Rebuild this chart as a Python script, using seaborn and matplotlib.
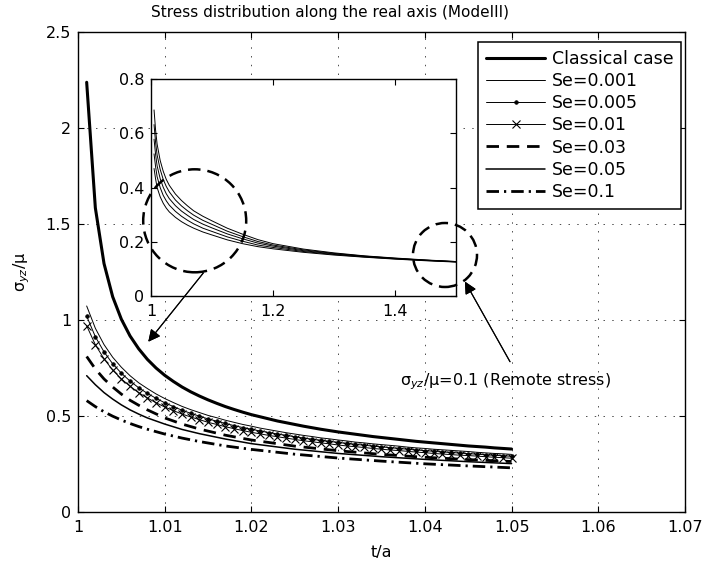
import matplotlib
matplotlib.use("Agg")
import matplotlib.pyplot as plt
from matplotlib.patches import Ellipse
from matplotlib.ticker import FuncFormatter, MultipleLocator, FixedLocator
import seaborn as sns

# ---------------------------------------------------------------- data
t_dense = [1.001, 1.002, 1.003, 1.004, 1.005, 1.006, 1.007, 1.008, 1.009, 1.010,
           1.011, 1.012, 1.013, 1.014, 1.015, 1.016, 1.017, 1.018, 1.019, 1.020,
           1.021, 1.022, 1.023, 1.024, 1.025, 1.026, 1.027, 1.028, 1.029, 1.030,
           1.031, 1.032, 1.033, 1.034, 1.035, 1.036, 1.037, 1.038, 1.039, 1.040,
           1.041, 1.042, 1.043, 1.044, 1.045, 1.046, 1.047, 1.048, 1.049, 1.050]

classical = [2.238, 1.584, 1.294, 1.121, 1.004, 0.917, 0.850, 0.795, 0.750, 0.712,
             0.680, 0.651, 0.626, 0.604, 0.584, 0.566, 0.549, 0.534, 0.520, 0.507,
             0.496, 0.485, 0.474, 0.465, 0.456, 0.447, 0.439, 0.431, 0.424, 0.417,
             0.411, 0.405, 0.399, 0.393, 0.388, 0.383, 0.378, 0.373, 0.368, 0.364,
             0.360, 0.356, 0.352, 0.348, 0.344, 0.341, 0.338, 0.334, 0.331, 0.328]

se_0001 = [1.073, 0.957, 0.872, 0.806, 0.754, 0.710, 0.673, 0.643, 0.615, 0.591,
           0.570, 0.550, 0.533, 0.518, 0.503, 0.491, 0.478, 0.467, 0.456, 0.447,
           0.437, 0.429, 0.421, 0.413, 0.406, 0.399, 0.393, 0.386, 0.381, 0.375,
           0.370, 0.364, 0.360, 0.355, 0.351, 0.347, 0.343, 0.338, 0.334, 0.331,
           0.327, 0.324, 0.321, 0.318, 0.315, 0.311, 0.308, 0.305, 0.303, 0.300]

se_0005 = [1.020, 0.913, 0.834, 0.772, 0.723, 0.682, 0.647, 0.618, 0.592, 0.569,
           0.549, 0.530, 0.514, 0.499, 0.485, 0.473, 0.461, 0.450, 0.440, 0.431,
           0.422, 0.414, 0.406, 0.399, 0.392, 0.385, 0.379, 0.373, 0.368, 0.362,
           0.357, 0.352, 0.348, 0.343, 0.339, 0.335, 0.331, 0.327, 0.323, 0.320,
           0.316, 0.313, 0.310, 0.307, 0.304, 0.301, 0.298, 0.295, 0.293, 0.290]

se_001 = [0.970, 0.871, 0.798, 0.739, 0.693, 0.655, 0.621, 0.594, 0.569, 0.547,
          0.528, 0.510, 0.495, 0.481, 0.467, 0.456, 0.444, 0.434, 0.424, 0.415,
          0.407, 0.399, 0.392, 0.385, 0.378, 0.371, 0.366, 0.360, 0.355, 0.349,
          0.344, 0.340, 0.336, 0.331, 0.327, 0.323, 0.320, 0.316, 0.312, 0.309,
          0.305, 0.302, 0.299, 0.296, 0.294, 0.291, 0.288, 0.285, 0.283, 0.280]

t_sparse = [1.001, 1.002, 1.003, 1.004, 1.005, 1.006, 1.007, 1.008, 1.010, 1.012,
            1.014, 1.017, 1.020, 1.025, 1.030, 1.035, 1.040, 1.045, 1.050]

se_003 = [0.810, 0.745, 0.693, 0.651, 0.614, 0.582, 0.556, 0.532, 0.490, 0.458,
          0.432, 0.400, 0.375, 0.343, 0.319, 0.300, 0.285, 0.273, 0.263]

se_005 = [0.710, 0.663, 0.622, 0.588, 0.558, 0.532, 0.510, 0.490, 0.458, 0.430,
          0.408, 0.380, 0.356, 0.327, 0.305, 0.288, 0.274, 0.262, 0.252]

se_01 = [0.580, 0.549, 0.522, 0.499, 0.479, 0.461, 0.445, 0.431, 0.406, 0.385,
         0.367, 0.344, 0.326, 0.301, 0.281, 0.265, 0.251, 0.240, 0.230]

# wider range shown in the inset
t_inset = [1.005, 1.0075, 1.01, 1.015, 1.02, 1.025, 1.03, 1.04, 1.05, 1.06,
           1.07, 1.085, 1.10, 1.125, 1.15, 1.175, 1.20, 1.25, 1.30, 1.35,
           1.40, 1.45, 1.50]
inset_c1 = [0.686, 0.612, 0.560, 0.500, 0.460, 0.430, 0.408, 0.376, 0.352, 0.332,
            0.314, 0.294, 0.277, 0.250, 0.228, 0.208, 0.193, 0.173, 0.159, 0.148,
            0.140, 0.133, 0.127]
inset_c2 = [0.632, 0.567, 0.520, 0.467, 0.430, 0.404, 0.384, 0.354, 0.332, 0.314,
            0.298, 0.279, 0.264, 0.239, 0.219, 0.201, 0.188, 0.170, 0.157, 0.147,
            0.139, 0.132, 0.127]
inset_c3 = [0.578, 0.522, 0.480, 0.433, 0.401, 0.377, 0.359, 0.333, 0.313, 0.297,
            0.282, 0.265, 0.251, 0.229, 0.211, 0.195, 0.184, 0.167, 0.155, 0.146,
            0.138, 0.132, 0.126]
inset_c4 = [0.524, 0.477, 0.440, 0.400, 0.371, 0.351, 0.335, 0.312, 0.294, 0.279,
            0.266, 0.250, 0.238, 0.218, 0.202, 0.188, 0.179, 0.164, 0.153, 0.144,
            0.137, 0.131, 0.126]
inset_c5 = [0.470, 0.432, 0.400, 0.366, 0.342, 0.324, 0.310, 0.290, 0.274, 0.261,
            0.250, 0.236, 0.225, 0.207, 0.193, 0.182, 0.174, 0.161, 0.151, 0.143,
            0.136, 0.130, 0.125]

labels = ["Classical case", "Se=0.001", "Se=0.005", "Se=0.01",
          "Se=0.03", "Se=0.05", "Se=0.1"]

# ---------------------------------------------------------------- style
sns.set_style("ticks")
plt.rcParams.update({
    "font.family": ["DejaVu Sans"],
    "font.size": 11.5,
    "xtick.direction": "in",
    "ytick.direction": "in",
    "xtick.top": True,
    "ytick.right": True,
    "xtick.major.size": 4,
    "ytick.major.size": 4,
    "axes.linewidth": 1.0,
    "axes.edgecolor": "black",
    "xtick.color": "black",
    "ytick.color": "black",
    "text.color": "black",
    "axes.labelcolor": "black",
    "legend.numpoints": 1,
})

W, H = 707, 565
fig = plt.figure(figsize=(W / 100, H / 100), dpi=100)


def fpos(x, y):
    """pixel position (from the top-left corner) -> figure fraction"""
    return x / W, 1 - y / H


fmt = FuncFormatter(lambda v, p: f"{v:g}")

ax = fig.add_axes([78 / W, 1 - 512 / H, 607 / W, 480 / H])

styles = [
    (labels[0], t_dense, classical, dict(lw=2.2, ls="-")),
    (labels[1], t_dense, se_0001, dict(lw=0.7, ls="-")),
    (labels[2], t_dense, se_0005, dict(lw=0.7, ls="-", marker="o", markersize=2.6,
                                       markeredgecolor="black", markerfacecolor="black",
                                       markeredgewidth=0.5)),
    (labels[3], t_dense, se_001, dict(lw=0.7, ls="-", marker="x", markersize=6,
                                      markeredgecolor="black", markeredgewidth=0.8)),
    (labels[4], t_sparse, se_003, dict(lw=2.0, ls=(0, (4.5, 2.8)))),
    (labels[5], t_sparse, se_005, dict(lw=1.1, ls="-")),
    (labels[6], t_sparse, se_01, dict(lw=2.0, ls=(0, (4.5, 1.8, 0.8, 1.8)))),
]
for lab, x, y, kw in styles:
    sns.lineplot(x=x, y=y, ax=ax, color="black", label=lab, sort=False,
                 estimator=None, **kw)

ax.set_xlim(1.0, 1.07)
ax.set_ylim(0, 2.5)
ax.xaxis.set_major_locator(MultipleLocator(0.01))
ax.yaxis.set_major_locator(MultipleLocator(0.5))
ax.xaxis.set_major_formatter(fmt)
ax.yaxis.set_major_formatter(fmt)
ax.tick_params(axis="x", pad=6, labelsize=11.5)
ax.tick_params(axis="y", pad=5, labelsize=11.5)
ax.grid(True, color="black", lw=0.7, ls=(0, (1.5, 7.5)), alpha=0.7)
ax.set_xlabel("")
ax.set_ylabel("")
for s in ax.spines.values():
    s.set_visible(True)

leg = ax.legend(loc="upper right", bbox_to_anchor=(0.9934, 0.979),
                borderaxespad=0, fontsize=12.5, frameon=True, fancybox=False,
                edgecolor="black", framealpha=1, handlelength=3.4,
                handletextpad=0.36, labelspacing=0.24, borderpad=0.45)
leg.get_frame().set_linewidth(1.1)

fig.text(*fpos(330, 13), "Stress distribution along the real axis (ModeIII)",
         ha="center", va="center", fontsize=11)
fig.text(*fpos(381, 553), "t/a", ha="center", va="center", fontsize=11.5)
fig.text(*fpos(22, 272), r"σ$_{yz}$/μ", ha="center", va="center",
         rotation=90, fontsize=11.5)

# ---------------------------------------------------------------- inset
axin = fig.add_axes([151 / W, 1 - 296 / H, 305 / W, 217 / H])
axin.set_facecolor("white")
for c in (inset_c1, inset_c2, inset_c3, inset_c4, inset_c5):
    sns.lineplot(x=t_inset, y=c, ax=axin, color="black", lw=0.7, sort=False,
                 estimator=None)
axin.set_xlim(1.0, 1.5)
axin.set_ylim(0, 0.8)
axin.xaxis.set_major_locator(FixedLocator([1.0, 1.2, 1.4]))
axin.yaxis.set_major_locator(MultipleLocator(0.2))
axin.xaxis.set_major_formatter(fmt)
axin.yaxis.set_major_formatter(fmt)
axin.tick_params(axis="x", pad=6, labelsize=11.5)
axin.tick_params(axis="y", pad=5, labelsize=11.5)
axin.grid(False)
axin.set_xlabel("")
axin.set_ylabel("")
for s in axin.spines.values():
    s.set_visible(True)
    s.set_linewidth(1.0)

# ---------------------------------------------------------------- callouts
for cx, cy, r in ((194.7, 220.8, 51.5), (445.0, 255.0, 32.0)):
    fig.add_artist(Ellipse(fpos(cx, cy), 2 * r / W, 2 * r / H,
                           transform=fig.transFigure, fill=False,
                           ec="black", lw=1.8, ls=(0, (5, 2.8)), zorder=5))

arrow_kw = dict(arrowstyle="-|>", mutation_scale=18, lw=0.8, color="black",
                shrinkA=0, shrinkB=0)
fig.add_artist(plt.annotate("", xy=fpos(148.3, 341.7), xytext=fpos(203.3, 273),
                            xycoords="figure fraction",
                            textcoords="figure fraction",
                            arrowprops=arrow_kw, zorder=6))
fig.add_artist(plt.annotate("", xy=fpos(465, 281.7), xytext=fpos(510, 361.7),
                            xycoords="figure fraction",
                            textcoords="figure fraction",
                            arrowprops=arrow_kw, zorder=6))
fig.text(*fpos(400, 382), r"σ$_{yz}$/μ=0.1 (Remote stress)",
         ha="left", va="center", fontsize=11.5)

fig.savefig("out.png", dpi=100)
